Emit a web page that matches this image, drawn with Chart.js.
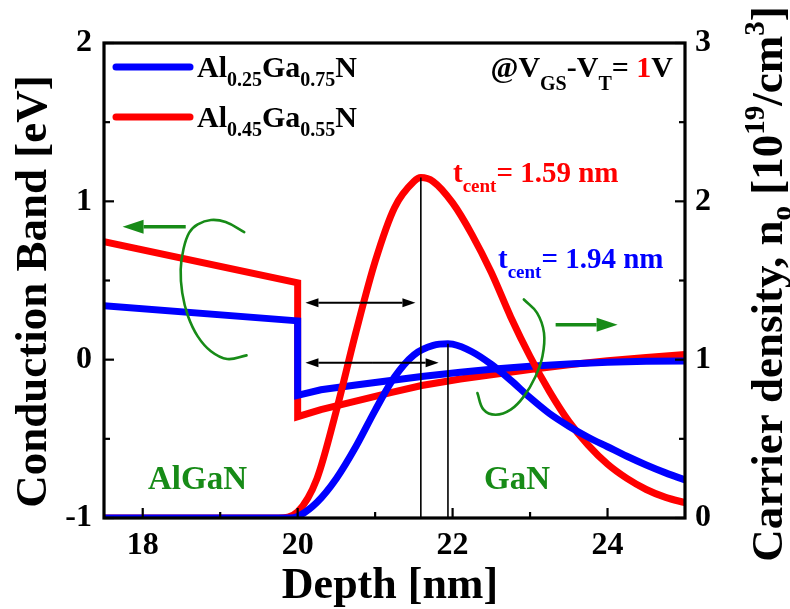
<!DOCTYPE html>
<html>
<head>
<meta charset="utf-8">
<script src="https://cdn.jsdelivr.net/npm/chart.js@4/dist/chart.umd.min.js"></script>
<style>
  html, body { margin: 0; padding: 0; background: #fff; }
  canvas { display: block; }
</style>
</head>
<body>
<canvas id="c" width="790" height="609"></canvas>
<script>
const SERIF = '"Liberation Serif", "Times New Roman", serif';
const RED = '#ff0000';
const BLUE = '#0000ff';
const GREEN = '#178b17';

// Conduction band edge (eV) vs depth (nm)
const bandDepth = [17.5, 20.0, 20.0, 20.3, 20.75, 21.2, 21.6, 22.1, 22.5, 23.0, 23.5, 24.0, 24.5, 25.0];
const bandAl25 = [0.34, 0.245, -0.225, -0.19, -0.16, -0.132, -0.106, -0.08, -0.06, -0.042, -0.028, -0.017, -0.01, -0.008];
const bandAl45 = [0.745, 0.485, -0.36, -0.315, -0.262, -0.208, -0.163, -0.122, -0.095, -0.063, -0.032, -0.006, 0.014, 0.032];

// Electron density (1e19 cm^-3) vs depth (nm)
const densDepthAl25 = [17.5, 19.9, 20.0, 20.25, 20.5, 20.75, 21.0, 21.25, 21.5, 21.75, 21.94, 22.0, 22.25, 22.5, 22.75, 23.0, 23.25, 23.5, 23.75, 24.0, 24.25, 24.5, 24.75, 25.0];
const densAl25 = [0, 0, 0.01, 0.1, 0.25, 0.45, 0.68, 0.89, 1.03, 1.09, 1.10, 1.098, 1.05, 0.97, 0.87, 0.76, 0.66, 0.58, 0.51, 0.45, 0.39, 0.335, 0.285, 0.24];
const densDepthAl45 = [17.5, 19.75, 20.0, 20.25, 20.5, 20.75, 21.0, 21.25, 21.5, 21.59, 21.75, 22.0, 22.25, 22.5, 22.75, 23.0, 23.25, 23.5, 23.75, 24.0, 24.25, 24.5, 24.75, 25.0];
const densAl45 = [0, 0, 0.04, 0.25, 0.68, 1.17, 1.62, 1.96, 2.125, 2.15, 2.125, 1.99, 1.79, 1.55, 1.27, 1.02, 0.80, 0.61, 0.46, 0.34, 0.25, 0.18, 0.13, 0.097];

// Charge centroid distance from the AlGaN/GaN interface (nm)
const interfaceDepth = 20;
const tCentAl45 = 1.59;
const tCentAl25 = 1.94;
const peakAl45 = 2.15;
const peakAl25 = 1.10;

// Double arrows marking t_cent (eV axis height, depth start/end)
const tArrowY = [0.36, -0.02];
const tArrowStart = [20.1, 20.1];
const tArrowEnd = [21.52, 21.82];

// Green "which axis" hints: loops and arrows
const loopLeftX = [19.31, 19.07, 18.88, 18.71, 18.60, 18.525, 18.49, 18.51, 18.585, 18.71, 18.88, 19.09, 19.34];
const loopLeftY = [0.806, 0.869, 0.882, 0.854, 0.802, 0.696, 0.57, 0.422, 0.274, 0.147, 0.053, 0.004, 0.027];
const loopRightX = [22.92, 23.09, 23.18, 23.16, 23.07, 22.92, 22.75, 22.555, 22.40, 22.32];
const loopRightY = [0.38, 0.296, 0.169, 0.021, -0.106, -0.232, -0.316, -0.348, -0.316, -0.211];
const hintArrowLeft = { from: [18.555, 0.84], to: [17.74, 0.84] };
const hintArrowRight = { from: [23.33, 0.22], to: [24.13, 0.22] };

// Axis ticks
const xTicks = [18, 20, 22, 24];
const xMinorTicks = [19, 21, 23];
const yTicks = [-1, 0, 1, 2];
const yMinorTicks = [-0.5, 0.5, 1.5];
const y2Ticks = [0, 1, 2, 3];
const y2MinorTicks = [0.5, 1.5, 2.5];

const pts = (xs, ys) => xs.map((x, i) => ({ x, y: ys[i] }));

const lineBase = { pointRadius: 0, pointHoverRadius: 0, fill: false };

const datasets = [
  { ...lineBase, label: 'tcent45', yAxisID: 'y2', borderColor: '#000', borderWidth: 1.6,
    data: [{ x: interfaceDepth + tCentAl45, y: peakAl45 }, { x: interfaceDepth + tCentAl45, y: 0 }] },
  { ...lineBase, label: 'tcent25', yAxisID: 'y2', borderColor: '#000', borderWidth: 1.6,
    data: [{ x: interfaceDepth + tCentAl25, y: peakAl25 }, { x: interfaceDepth + tCentAl25, y: 0 }] },
  { ...lineBase, label: 'loopL', yAxisID: 'y', borderColor: GREEN, borderWidth: 2.6, tension: 0.4,
    borderCapStyle: 'round', data: pts(loopLeftX, loopLeftY) },
  { ...lineBase, label: 'loopR', yAxisID: 'y', borderColor: GREEN, borderWidth: 2.6, tension: 0.4,
    borderCapStyle: 'round', data: pts(loopRightX, loopRightY) },
  { ...lineBase, label: 'n Al0.25', yAxisID: 'y2', borderColor: BLUE, borderWidth: 7,
    cubicInterpolationMode: 'monotone', data: pts(densDepthAl25, densAl25) },
  { ...lineBase, label: 'n Al0.45', yAxisID: 'y2', borderColor: RED, borderWidth: 7,
    cubicInterpolationMode: 'monotone', data: pts(densDepthAl45, densAl45) },
  { ...lineBase, label: 'Ec Al0.25', yAxisID: 'y', borderColor: BLUE, borderWidth: 7, tension: 0,
    borderJoinStyle: 'miter', data: pts(bandDepth, bandAl25) },
  { ...lineBase, label: 'Ec Al0.45', yAxisID: 'y', borderColor: RED, borderWidth: 7, tension: 0,
    borderJoinStyle: 'miter', data: pts(bandDepth, bandAl45) }
];

const tickFont = { family: SERIF, size: 32, weight: 'bold' };

function setTicks(values) {
  return (scale) => { scale.ticks = values.map(v => ({ value: v })); };
}

function drawRuns(ctx, parts, x0, y0, main, small, color) {
  let x = x0;
  for (const p of parts) {
    const sz = p.k === 'n' ? main : small;
    ctx.font = `bold ${sz}px ${SERIF}`;
    ctx.fillStyle = p.c || color;
    ctx.fillText(p.t, x, y0 + (p.dy || 0));
    x += ctx.measureText(p.t).width;
  }
  return x - x0;
}

function runsWidth(ctx, parts, main, small) {
  let w = 0;
  for (const p of parts) {
    ctx.font = `bold ${p.k === 'n' ? main : small}px ${SERIF}`;
    w += ctx.measureText(p.t).width;
  }
  return w;
}

function arrow(ctx, x1, y1, x2, y2, headLen, headHalf) {
  const ang = Math.atan2(y2 - y1, x2 - x1);
  const bx = x2 - headLen * Math.cos(ang), by = y2 - headLen * Math.sin(ang);
  ctx.beginPath();
  ctx.moveTo(x1, y1);
  ctx.lineTo(bx, by);
  ctx.stroke();
  ctx.beginPath();
  ctx.moveTo(x2, y2);
  ctx.lineTo(bx + headHalf * Math.sin(ang), by - headHalf * Math.cos(ang));
  ctx.lineTo(bx - headHalf * Math.sin(ang), by + headHalf * Math.cos(ang));
  ctx.closePath();
  ctx.fill();
}

const decor = {
  id: 'decor',
  afterDatasetsDraw(chart) {
    const { ctx, chartArea: a } = chart;
    const sx = chart.scales.x, sy = chart.scales.y, sy2 = chart.scales.y2;
    ctx.save();

    // t_cent double arrows
    ctx.strokeStyle = '#000';
    ctx.fillStyle = '#000';
    ctx.lineWidth = 2;
    tArrowY.forEach((v, i) => {
      const py = sy.getPixelForValue(v);
      const p1 = sx.getPixelForValue(tArrowStart[i]);
      const p2 = sx.getPixelForValue(tArrowEnd[i]);
      const mid = (p1 + p2) / 2;
      arrow(ctx, mid, py, p2, py, 13, 4.5);
      arrow(ctx, mid, py, p1, py, 13, 4.5);
    });

    // green hint arrows
    ctx.strokeStyle = GREEN;
    ctx.fillStyle = GREEN;
    ctx.lineWidth = 3.5;
    [hintArrowLeft, hintArrowRight].forEach(h => {
      arrow(ctx, sx.getPixelForValue(h.from[0]), sy.getPixelForValue(h.from[1]),
        sx.getPixelForValue(h.to[0]), sy.getPixelForValue(h.to[1]), 21, 7);
    });

    // inward ticks
    ctx.strokeStyle = '#000';
    ctx.lineWidth = 2.2;
    const seg = (x1, y1, x2, y2) => { ctx.beginPath(); ctx.moveTo(x1, y1); ctx.lineTo(x2, y2); ctx.stroke(); };
    xTicks.forEach(v => { const p = sx.getPixelForValue(v); seg(p, a.bottom, p, a.bottom - 10); });
    xMinorTicks.forEach(v => { const p = sx.getPixelForValue(v); seg(p, a.bottom, p, a.bottom - 6); });
    yTicks.forEach(v => { const p = sy.getPixelForValue(v); seg(a.left, p, a.left + 10, p); });
    yMinorTicks.forEach(v => { const p = sy.getPixelForValue(v); seg(a.left, p, a.left + 6, p); });
    y2Ticks.forEach(v => { const p = sy2.getPixelForValue(v); seg(a.right, p, a.right - 10, p); });
    y2MinorTicks.forEach(v => { const p = sy2.getPixelForValue(v); seg(a.right, p, a.right - 6, p); });

    // plot frame
    ctx.lineWidth = 3.2;
    ctx.strokeRect(a.left, a.top, a.right - a.left, a.bottom - a.top);
    ctx.restore();
  },
  afterDraw(chart) {
    const { ctx } = chart;
    ctx.save();
    ctx.textBaseline = 'alphabetic';
    ctx.textAlign = 'left';

    // legend
    ctx.lineCap = 'round';
    ctx.lineWidth = 7;
    [[BLUE, 67, '0.25', '0.75'], [RED, 117, '0.45', '0.55']].forEach(([c, ly, a1, g1]) => {
      ctx.strokeStyle = c;
      ctx.beginPath(); ctx.moveTo(116, ly); ctx.lineTo(190, ly); ctx.stroke();
      drawRuns(ctx, [
        { t: 'Al', k: 'n' }, { t: a1, k: 's', dy: 9 },
        { t: 'Ga', k: 'n' }, { t: g1, k: 's', dy: 9 },
        { t: 'N', k: 'n' }
      ], 197, ly + 10, 30, 20, '#000');
    });

    // bias condition
    const bias = [
      { t: '@V', k: 'n' }, { t: 'GS', k: 's', dy: 13 }, { t: '-V', k: 'n' }, { t: 'T', k: 's', dy: 13 },
      { t: '= ', k: 'n' }, { t: '1', k: 'n', c: RED }, { t: 'V', k: 'n' }
    ];
    drawRuns(ctx, bias, 673 - runsWidth(ctx, bias, 30, 20), 77, 30, 20, '#000');

    // centroid labels
    const tc = (val) => [{ t: 't', k: 'n' }, { t: 'cent', k: 's', dy: 10 }, { t: '= ' + val.toFixed(2) + ' nm', k: 'n' }];
    drawRuns(ctx, tc(tCentAl45), 453, 182, 29, 19, RED);
    drawRuns(ctx, tc(tCentAl25), 498, 268, 29, 19, BLUE);

    // layer names
    ctx.font = `bold 33px ${SERIF}`;
    ctx.fillStyle = GREEN;
    ctx.textAlign = 'center';
    ctx.fillText('AlGaN', 197.5, 489);
    ctx.fillText('GaN', 517, 489);

    // axis titles
    ctx.fillStyle = '#000';
    ctx.font = `bold 44px ${SERIF}`;
    ctx.fillText('Depth [nm]', 390, 598);

    ctx.save();
    ctx.translate(46, 291.5);
    ctx.rotate(-Math.PI / 2);
    ctx.font = `bold 45px ${SERIF}`;
    ctx.fillText('Conduction Band [eV]', 0, 0);
    ctx.restore();

    ctx.textAlign = 'left';
    const rt = [
      { t: 'Carrier density, n', k: 'n' }, { t: 'o', k: 's', dy: 9 },
      { t: ' [10', k: 'n' }, { t: '19', k: 's', dy: -18 },
      { t: '/cm', k: 'n' }, { t: '3', k: 's', dy: -18 }, { t: ']', k: 'n' }
    ];
    ctx.save();
    ctx.translate(782, 284);
    ctx.rotate(-Math.PI / 2);
    const w = runsWidth(ctx, rt, 45, 29);
    drawRuns(ctx, rt, -w / 2, 0, 45, 29, '#000');
    ctx.restore();

    ctx.restore();
  }
};

new Chart(document.getElementById('c'), {
  type: 'line',
  data: { datasets },
  plugins: [decor],
  options: {
    responsive: false,
    animation: false,
    devicePixelRatio: 1,
    layout: { padding: { top: 43, left: 0, right: 0, bottom: 0 } },
    plugins: { legend: { display: false }, tooltip: { enabled: false } },
    elements: { line: { borderCapStyle: 'butt' } },
    scales: {
      x: {
        type: 'linear', position: 'bottom', min: 17.5, max: 25,
        grid: { display: false, drawTicks: false }, border: { display: false },
        ticks: { font: tickFont, color: '#000', padding: 9 },
        afterBuildTicks: setTicks(xTicks),
        afterFit: (s) => { s.height = 91; }
      },
      y: {
        type: 'linear', position: 'left', min: -1, max: 2,
        grid: { display: false, drawTicks: false }, border: { display: false },
        ticks: { font: tickFont, color: '#000', padding: 12 },
        afterBuildTicks: setTicks(yTicks),
        afterFit: (s) => { s.width = 104; }
      },
      y2: {
        type: 'linear', position: 'right', min: 0, max: 3,
        grid: { display: false, drawTicks: false }, border: { display: false },
        ticks: { font: tickFont, color: '#000', padding: 10 },
        afterBuildTicks: setTicks(y2Ticks),
        afterFit: (s) => { s.width = 105; }
      }
    }
  }
});
</script>
</body>
</html>
